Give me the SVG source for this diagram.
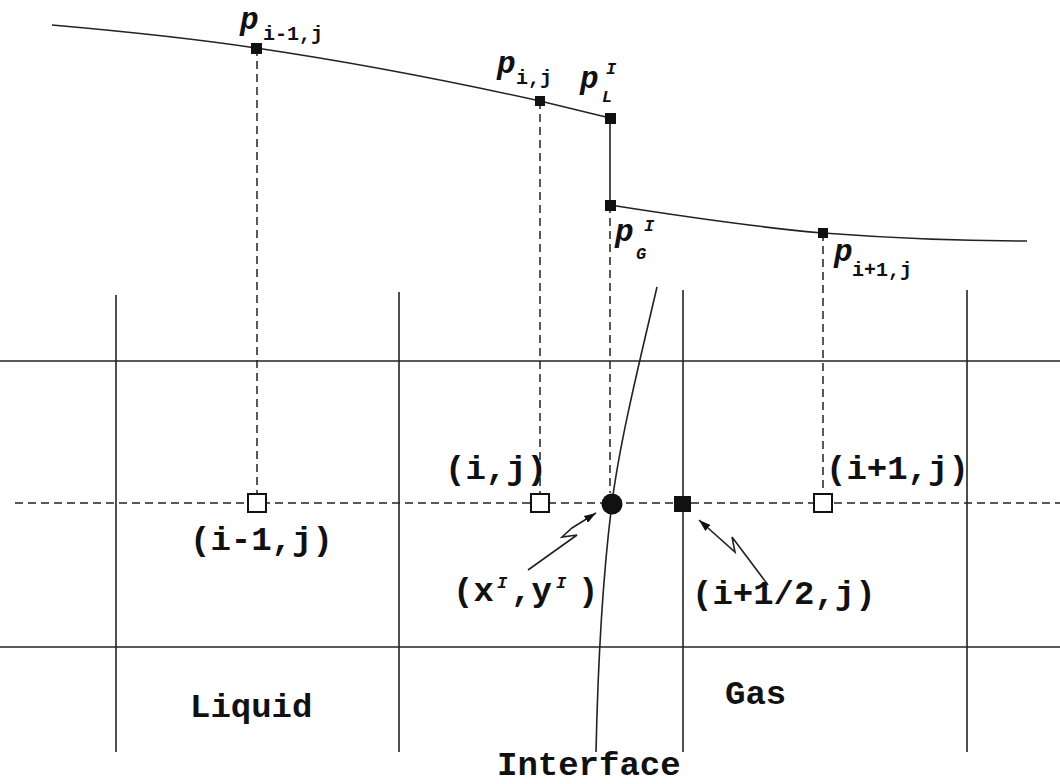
<svg xmlns="http://www.w3.org/2000/svg" width="1060" height="784" viewBox="0 0 1060 784">
<style>
.ln{stroke:#222;stroke-width:1.6;fill:none}
.dash{stroke:#222;stroke-width:1.5;fill:none;stroke-dasharray:8 5}
.t{font-family:"Liberation Mono","Courier New",monospace;font-weight:bold;font-size:34px;fill:#111}
.p{font-family:"Liberation Mono","Courier New",monospace;font-weight:bold;font-style:italic;font-size:31px;fill:#111}
.s{font-family:"Liberation Mono","Courier New",monospace;font-weight:bold;font-size:20px;fill:#111}
.si{font-family:"Liberation Mono","Courier New",monospace;font-weight:bold;font-style:italic;font-size:17px;fill:#111}
.sq{fill:#111}
.osq{fill:#fff;stroke:#111;stroke-width:2}
</style>
<defs>
<marker id="ah" viewBox="0 0 12 8" refX="12" refY="4" markerWidth="12" markerHeight="8" markerUnits="userSpaceOnUse" orient="auto">
<path d="M0,0 L12,4 L0,8 Z" fill="#111"/>
</marker>
</defs>
<rect width="1060" height="784" fill="#fff"/>
<g id="grid">
<line class="ln" x1="0" y1="361" x2="1060" y2="361"/>
<line class="ln" x1="0" y1="647" x2="1060" y2="647"/>
<line class="ln" x1="116" y1="295" x2="116" y2="752"/>
<line class="ln" x1="399" y1="292" x2="399" y2="752"/>
<line class="ln" x1="683" y1="290" x2="683" y2="752"/>
<line class="ln" x1="967" y1="290" x2="967" y2="752"/>
<line class="dash" x1="15" y1="503" x2="1060" y2="503"/>
</g>
<g id="connectors">
<line class="dash" x1="257" y1="48" x2="257" y2="494"/>
<line class="dash" x1="540" y1="101" x2="540" y2="494"/>
<line class="dash" x1="610" y1="205" x2="610" y2="493"/>
<line class="dash" x1="823" y1="233" x2="823" y2="494"/>
<path class="ln" d="M52,25 C120,31 190,38 256,48 C351,62 445,80 540,101 L610,118"/>
<line class="ln" x1="610" y1="118" x2="610" y2="205" stroke-width="2"/>
<path class="ln" d="M610,205 C680,216 753,227 823,233 C890,238 960,241 1027,241"/>
<path class="ln" d="M657,287 C640,360 620,440 612,503 C604,566 598,660 596,752"/>
<path class="ln" d="M528,570 L577,535 L562,537 L572,528 L596,513" stroke-width="1.4" marker-end="url(#ah)"/>
<path class="ln" d="M768,585 L732,537 L735,552 L699,520" stroke-width="1.4" marker-end="url(#ah)"/>
</g>
<g id="curve-points">
<rect class="sq" x="251" y="43" width="11" height="11"/>
<rect class="sq" x="535" y="96" width="10" height="10"/>
<rect class="sq" x="605" y="113" width="11" height="11"/>
<rect class="sq" x="605" y="200" width="11" height="11"/>
<rect class="sq" x="818" y="228" width="10" height="10"/>
</g>
<g id="node-im1"><rect class="osq" x="248" y="494" width="18" height="18"/></g>
<g id="node-i"><rect class="osq" x="531" y="494" width="18" height="18"/></g>
<g id="node-ip1"><rect class="osq" x="814" y="494" width="18" height="18"/></g>
<g id="node-interface"><circle cx="612" cy="504" r="10.5" fill="#111"/></g>
<g id="node-half"><rect class="sq" x="674" y="496" width="17" height="16"/></g>
<g id="labels">
<text class="p" x="240" y="29">p</text><text class="s" x="263" y="40">i-1,j</text>
<text class="p" x="497" y="73">p</text><text class="s" x="516" y="84">i,j</text>
<text class="p" x="580" y="88">p</text><text class="si" x="602" y="102">L</text><text class="si" x="606" y="74">I</text>
<text class="p" x="615" y="241">p</text><text class="si" x="636" y="259">G</text><text class="si" x="644" y="231">I</text>
<text class="p" x="834" y="261">p</text><text class="s" x="852" y="276">i+1,j</text>
<text class="t" x="445" y="479">(i,j)</text>
<text class="t" x="826" y="479">(i+1,j)</text>
<text class="t" x="190" y="550">(i-1,j)</text>
<text class="t" x="453" y="601">(x</text><text class="si" x="497" y="588">I</text><text class="t" x="511" y="601">,y</text><text class="si" x="556" y="588">I</text><text class="t" x="578" y="601">)</text>
<text class="t" x="692" y="604">(i+1/2,j)</text>
<text class="t" x="190" y="717">Liquid</text>
<text class="t" x="725" y="704">Gas</text>
<text class="t" x="497" y="775">Interface</text>
</g>
</svg>
